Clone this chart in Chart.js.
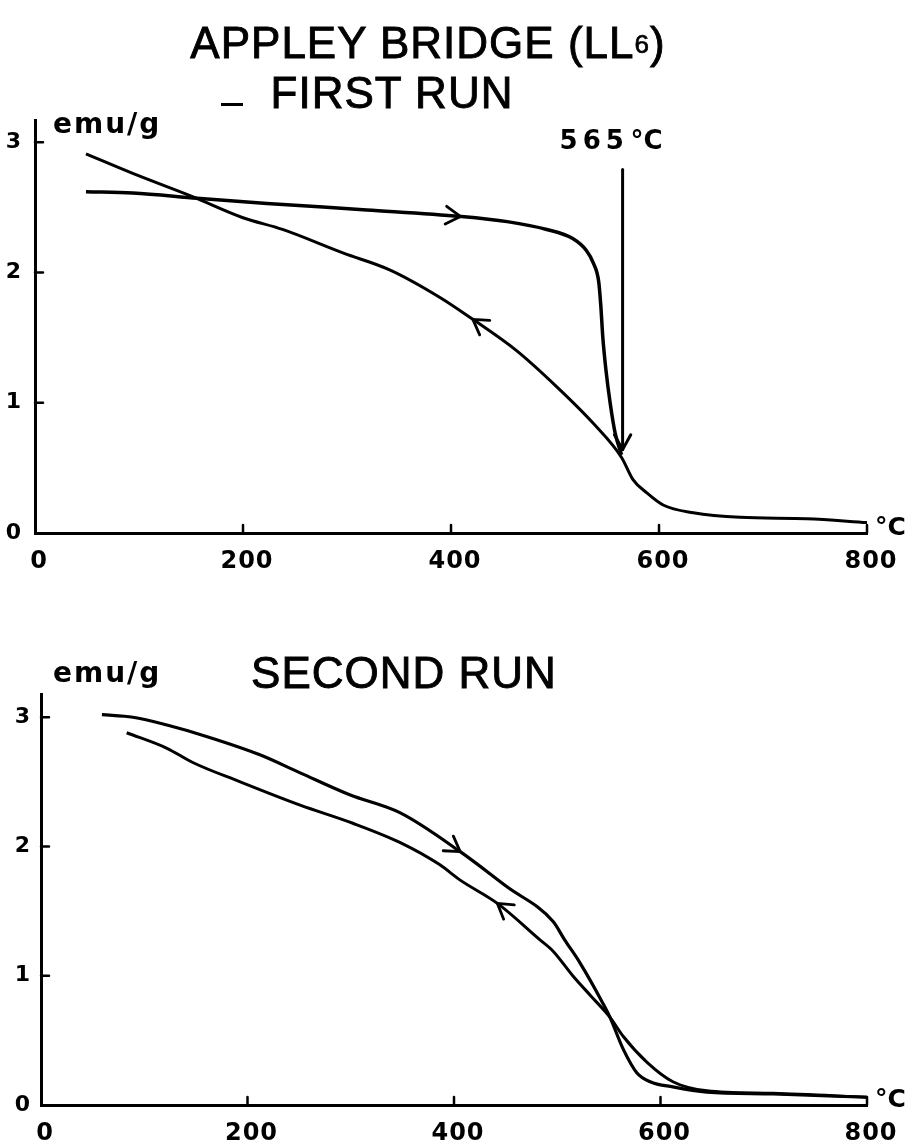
<!DOCTYPE html>
<html>
<head>
<meta charset="utf-8">
<script src="https://cdn.jsdelivr.net/npm/chart.js@4.4.1/dist/chart.umd.min.js"></script>
<style>
  body { margin: 0; background: #fff; width: 915px; height: 1146px; position: relative; overflow: hidden;
         font-family: "Liberation Sans", Arial, sans-serif; }
  canvas { position: absolute; left: 0; }
  .ttl { position: absolute; font-size: 44px; line-height: 44px; color: #000; white-space: nowrap; letter-spacing: 1px;
         transform: translateX(-50%); -webkit-text-stroke: 0.9px #000; }
  .sub { font-size: 26px; position: relative; top: -5px; -webkit-text-stroke: 0.7px #000; }
  .dash { position: absolute; left: 221px; top: 103px; width: 22px; height: 3px; background: #000; }
</style>
</head>
<body>
<canvas id="firstRun" width="915" height="580" style="top:0"></canvas>
<canvas id="secondRun" width="915" height="566" style="top:580px"></canvas>

<div class="ttl" style="left:428px;top:21px">APPLEY BRIDGE (LL<span class="sub">6</span>)</div>
<div class="dash"></div>
<div class="ttl" style="left:392px;top:71px">FIRST RUN</div>
<div class="ttl" style="left:404px;top:651px">SECOND RUN</div>

<script>
// axes
const xTicks = [0, 200, 400, 600, 800];
const yTicks = [0, 1, 2, 3];

// first run: heating (arrow right) and cooling (arrow left), temp in °C, moment in emu/g
const run1HeatT = [49, 94, 156, 223, 319, 409, 454, 492, 517, 530, 537, 542, 544, 546, 549, 553, 558, 564];
const run1HeatM = [2.62, 2.61, 2.57, 2.53, 2.48, 2.43, 2.39, 2.33, 2.26, 2.17, 2.07, 1.93, 1.75, 1.50, 1.25, 1.00, 0.76, 0.60];
const run1CoolT = [49, 94, 152, 200, 238, 296, 341, 389, 421, 463, 502, 537, 564, 575, 588, 604, 633, 678, 742, 800];
const run1CoolM = [2.91, 2.76, 2.58, 2.42, 2.33, 2.15, 2.02, 1.81, 1.64, 1.40, 1.12, 0.84, 0.58, 0.41, 0.31, 0.215, 0.155, 0.12, 0.11, 0.08];

// second run
const run2HeatT = [59, 89, 122, 161, 212, 251, 299, 348, 406, 451, 496, 507, 522, 544, 551, 564, 577, 590, 612, 645, 709, 800];
const run2HeatM = [3.02, 3.00, 2.94, 2.85, 2.71, 2.57, 2.40, 2.26, 1.96, 1.69, 1.42, 1.28, 1.10, 0.79, 0.68, 0.43, 0.25, 0.18, 0.14, 0.10, 0.085, 0.06];
const run2CoolT = [83, 122, 147, 193, 251, 302, 348, 386, 406, 442, 483, 496, 515, 533, 551, 564, 587, 612, 645, 709, 800];
const run2CoolM = [2.88, 2.76, 2.65, 2.50, 2.32, 2.18, 2.03, 1.86, 1.74, 1.56, 1.28, 1.19, 1.00, 0.84, 0.68, 0.53, 0.33, 0.18, 0.11, 0.09, 0.06];

// Curie point marker (first run)
const curieT = 565;
const curieFrom = 2.79;
const curieTo = 0.64;
const curieNum = '565';
const curieUnit = '°C';

const toPts = (t, m) => t.map((v, i) => ({ x: v, y: m[i] }));
const boldFont = sz => `bold ${sz}px "DejaVu Sans", Verdana, sans-serif`;

function chevron(ctx, tx, ty, dx, dy, len, ang) {
  const n = Math.hypot(dx, dy);
  dx /= n; dy /= n;
  ctx.beginPath();
  [ang, -ang].forEach(a => {
    const c = Math.cos(a), s = Math.sin(a);
    const rx = dx * c - dy * s, ry = dx * s + dy * c;
    ctx.moveTo(tx - rx * len, ty - ry * len);
    ctx.lineTo(tx, ty);
  });
  ctx.stroke();
}

// arrow on a curve at point index i, forward = direction of increasing temperature
function curveArrow(chart, dsIndex, i, forward) {
  const pts = chart.getDatasetMeta(dsIndex).data;
  const p = pts[i], a = pts[i - 1], b = pts[i + 1];
  let dx = b.x - a.x, dy = b.y - a.y;
  if (!forward) { dx = -dx; dy = -dy; }
  chevron(chart.ctx, p.x, p.y, dx, dy, 17, 0.55);
}

function makeChart(id, cfg) {
  const annot = {
    id: 'annot' + id,
    beforeDraw(chart) {
      chart.ctx.letterSpacing = '1px';
    },
    afterDraw(chart) {
      const { ctx, chartArea: area, scales: { x, y } } = chart;
      ctx.save();
      ctx.strokeStyle = '#000';
      ctx.fillStyle = '#000';
      ctx.lineCap = 'round';

      // inward tick marks
      ctx.lineWidth = 2.5;
      ctx.beginPath();
      xTicks.slice(1).forEach(v => {
        const px = x.getPixelForValue(v);
        ctx.moveTo(px, area.bottom);
        ctx.lineTo(px, area.bottom - 8);
      });
      yTicks.slice(1).forEach(v => {
        const py = y.getPixelForValue(v);
        ctx.moveTo(area.left, py);
        ctx.lineTo(area.left + 8, py);
      });
      ctx.stroke();

      // direction arrows
      ctx.lineWidth = 2.8;
      cfg.arrows.forEach(a => curveArrow(chart, a.ds, a.i, a.fwd));

      // unit labels
      ctx.letterSpacing = '2px';
      ctx.font = boldFont(28);
      ctx.textBaseline = 'alphabetic';
      ctx.textAlign = 'left';
      ctx.fillText('emu/g', area.left + cfg.unitDx, area.top + cfg.unitDy);
      ctx.letterSpacing = '0px';
      ctx.font = boldFont(25);
      ctx.fillText('°C', area.right + 8, area.bottom + 2);

      if (cfg.curie) {
        const cx = x.getPixelForValue(curieT);
        const y0 = y.getPixelForValue(curieFrom);
        const y1 = y.getPixelForValue(curieTo);
        ctx.lineWidth = 3;
        ctx.beginPath();
        ctx.moveTo(cx, y0);
        ctx.lineTo(cx, y1);
        ctx.stroke();
        chevron(ctx, cx, y1, 0, 1, 17, 0.5);
        ctx.font = boldFont(26);
        ctx.letterSpacing = '5px';
        ctx.fillText(curieNum, cx - 63, y0 - 21);
        ctx.letterSpacing = '0px';
        ctx.fillText(curieUnit, cx + 8, y0 - 21);
      }
      ctx.restore();
    }
  };

  return new Chart(document.getElementById(id), {
    type: 'line',
    data: {
      datasets: [
        { label: 'heating', data: toPts(cfg.heatT, cfg.heatM), borderWidth: cfg.heatWidth },
        { label: 'cooling', data: toPts(cfg.coolT, cfg.coolM), borderWidth: 3 }
      ].map(d => Object.assign(d, {
        borderColor: '#000', pointRadius: 0, fill: false, cubicInterpolationMode: 'monotone'
      }))
    },
    options: {
      responsive: false,
      animation: false,
      events: [],
      layout: { padding: { left: 0, top: cfg.padTop, right: 48, bottom: 0 } },
      plugins: { legend: { display: false }, tooltip: { enabled: false } },
      scales: {
        x: {
          type: 'linear', min: 0, max: 800,
          afterBuildTicks: s => { s.ticks = xTicks.map(v => ({ value: v })); },
          afterFit: s => { s.height = cfg.xHeight; },
          grid: { display: false, drawTicks: false },
          border: { display: true, color: '#000', width: 3 },
          ticks: { color: '#000', padding: 14, maxRotation: 0, labelOffset: 4,
                   font: { family: '"DejaVu Sans"', weight: 'bold', size: 24 } }
        },
        y: {
          type: 'linear', min: 0, max: cfg.yMax,
          afterBuildTicks: s => { s.ticks = yTicks.map(v => ({ value: v })); },
          afterFit: s => { s.width = cfg.yWidth; },
          grid: { display: false, drawTicks: false },
          border: { display: true, color: '#000', width: 3 },
          ticks: { color: '#000', padding: cfg.yPad, font: { family: '"DejaVu Sans"', weight: 'bold', size: 22 } }
        }
      }
    },
    plugins: [annot]
  });
}

makeChart('firstRun', {
  heatT: run1HeatT, heatM: run1HeatM, coolT: run1CoolT, coolM: run1CoolM,
  heatWidth: 3.5, yMax: 3.17, padTop: 120, xHeight: 47, yWidth: 35, yPad: 13,
  unitDx: 18, unitDy: 13, curie: true,
  arrows: [{ ds: 0, i: 5, fwd: true }, { ds: 1, i: 8, fwd: false }]
});

makeChart('secondRun', {
  heatT: run2HeatT, heatM: run2HeatM, coolT: run2CoolT, coolM: run2CoolM,
  heatWidth: 3.2, yMax: 3.18, padTop: 114, xHeight: 41, yWidth: 41, yPad: 10,
  unitDx: 12, unitDy: -12, curie: false,
  arrows: [{ ds: 0, i: 8, fwd: true }, { ds: 1, i: 9, fwd: false }]
});
</script>
</body>
</html>
